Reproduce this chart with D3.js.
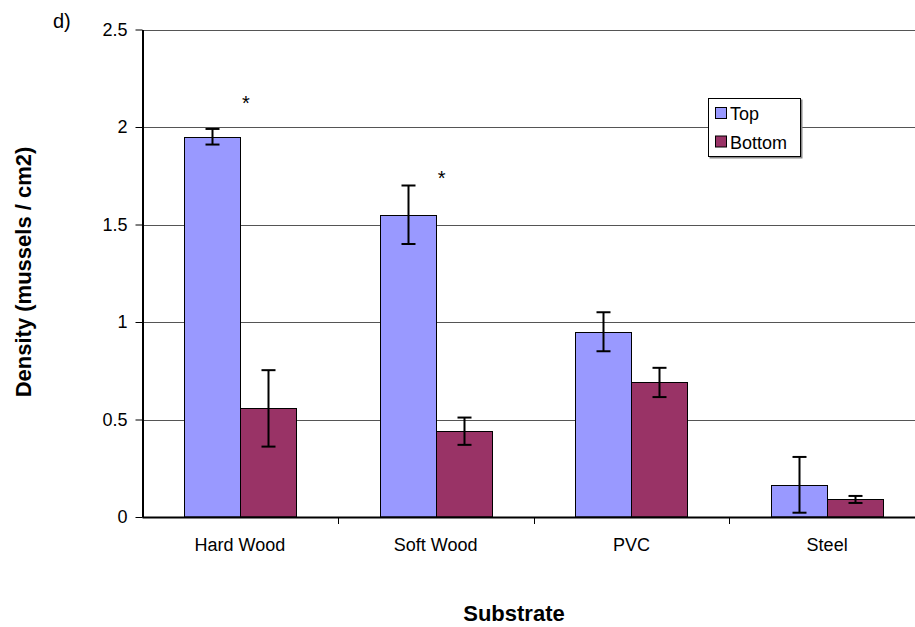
<!DOCTYPE html>
<html><head><meta charset="utf-8">
<script src="https://cdn.jsdelivr.net/npm/d3@7"></script>
<style>body{margin:0;background:#fff}svg{display:block;font-family:"Liberation Sans",Arial,sans-serif}</style>
</head><body><svg id="c" width="915" height="627"></svg>
<script>
const categories = ["Hard Wood", "Soft Wood", "PVC", "Steel"];
const seriesNames = ["Top", "Bottom"];
const topValues = [1.95, 1.55, 0.95, 0.165];
const topErrors = [0.04, 0.15, 0.10, 0.143];
const bottomValues = [0.557, 0.44, 0.69, 0.09];
const bottomErrors = [0.196, 0.07, 0.075, 0.018];
const yTicks = [0, 0.5, 1, 1.5, 2, 2.5];
const starCategories = ["Hard Wood", "Soft Wood"];
const starLevels = [2.15, 1.765];
const colors = ["#9999FF", "#993366"];

const svg = d3.select("#c");
const pLeft = 142, pRight = 925, pTop = 29.5, pBottom = 517;
const x = d3.scaleBand().domain(categories).range([pLeft, pRight]).paddingInner(0).paddingOuter(0);
const inner = d3.scaleBand().domain(seriesNames).range([0, x.bandwidth()]).paddingInner(0).paddingOuter(0.748);
const y = d3.scaleLinear().domain([0, 2.5]).range([pBottom, pTop]);

// gridlines
svg.append("g").selectAll("line").data(yTicks.filter(d => d > 0)).join("line")
  .attr("x1", pLeft).attr("x2", pRight)
  .attr("y1", d => Math.round(y(d)) + 0.5).attr("y2", d => Math.round(y(d)) + 0.5)
  .attr("stroke", "#555").attr("stroke-width", 1);

const data = [];
categories.forEach((c, i) => {
  data.push({c, s: "Top", v: topValues[i], e: topErrors[i], col: colors[0]});
  data.push({c, s: "Bottom", v: bottomValues[i], e: bottomErrors[i], col: colors[1]});
});

svg.append("g").selectAll("rect").data(data).join("rect")
  .attr("x", d => Math.round(x(d.c) + inner(d.s)) + 0.5)
  .attr("width", Math.round(inner.bandwidth()))
  .attr("y", d => Math.round(y(d.v)) + 0.5)
  .attr("height", d => pBottom - Math.round(y(d.v)) - 0.5)
  .attr("fill", d => d.col).attr("stroke", "#000").attr("stroke-width", 1);

// error bars
const eb = svg.append("g").attr("stroke", "#000").attr("stroke-width", 2);
data.forEach(d => {
  const cx = Math.round(x(d.c) + inner(d.s) + inner.bandwidth() / 2) + 0.5;
  const y1 = y(d.v + d.e), y2 = y(d.v - d.e);
  eb.append("line").attr("x1", cx).attr("x2", cx).attr("y1", y1).attr("y2", y2);
  eb.append("line").attr("x1", cx - 7).attr("x2", cx + 7).attr("y1", y1).attr("y2", y1);
  eb.append("line").attr("x1", cx - 7).attr("x2", cx + 7).attr("y1", y2).attr("y2", y2);
});

// asterisks
svg.append("g").selectAll("text").data(starCategories).join("text")
  .attr("x", (c) => x(c) + inner("Bottom") + 6)
  .attr("y", (c, i) => y(starLevels[i]) + 12)
  .attr("text-anchor", "middle").attr("font-size", 20).text("*");

// y axis
const yAxis = svg.append("g").attr("transform", `translate(${pLeft + 0.5},0)`)
  .call(d3.axisLeft(y).tickValues(yTicks).tickFormat(d3.format("")).tickSize(7).tickSizeOuter(0).tickPadding(8));
yAxis.select(".domain").attr("stroke", "#000").attr("stroke-width", 2);
yAxis.selectAll(".tick line").attr("stroke", "#000");
yAxis.selectAll("text").attr("font-size", 18).attr("fill", "#000").attr("font-family", "Liberation Sans, Arial, sans-serif");

// x axis
const xAxis = svg.append("g").attr("transform", `translate(0,${pBottom})`)
  .call(d3.axisBottom(x).tickSize(0).tickSizeOuter(0).tickPadding(21));
xAxis.select(".domain").attr("stroke", "#000").attr("stroke-width", 2);
xAxis.selectAll("text").attr("font-size", 18).attr("fill", "#000").attr("font-family", "Liberation Sans, Arial, sans-serif");
svg.append("g").selectAll("line").data(categories.slice(1)).join("line")
  .attr("x1", c => Math.round(x(c)) + 0.5).attr("x2", c => Math.round(x(c)) + 0.5)
  .attr("y1", pBottom).attr("y2", pBottom + 7).attr("stroke", "#000");

// titles
svg.append("text").attr("x", 514).attr("y", 621).attr("text-anchor", "middle")
  .attr("font-size", 22).attr("font-weight", "bold").text("Substrate");
svg.append("text").attr("transform", `translate(31,272) rotate(-90)`).attr("text-anchor", "middle")
  .attr("font-size", 22).attr("font-weight", "bold").text("Density (mussels / cm2)");
svg.append("text").attr("x", 53).attr("y", 28).attr("font-size", 20).text("d)");

// legend
const lg = svg.append("g");
lg.append("rect").attr("x", 709.5).attr("y", 99.5).attr("width", 93).attr("height", 59).attr("fill", "#888");
lg.append("rect").attr("x", 708.5).attr("y", 98.5).attr("width", 92).attr("height", 58)
  .attr("fill", "#fff").attr("stroke", "#000").attr("stroke-width", 1);
seriesNames.forEach((s, i) => {
  lg.append("rect").attr("x", 715.5).attr("y", 107.5 + i * 28.5).attr("width", 11).attr("height", 11)
    .attr("fill", colors[i]).attr("stroke", "#000");
  lg.append("text").attr("x", 730).attr("y", 120 + i * 28.5).attr("font-size", 18).text(s);
});
</script></body></html>
